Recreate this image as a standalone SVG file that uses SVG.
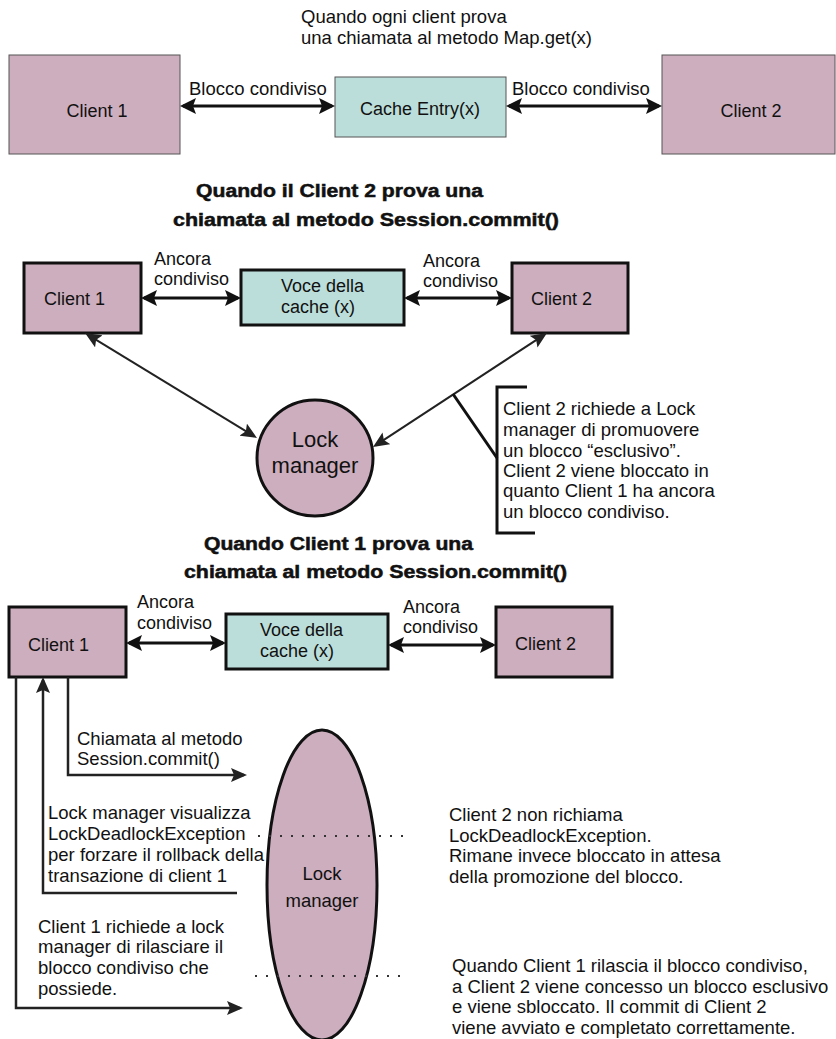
<svg xmlns="http://www.w3.org/2000/svg" width="836" height="1039" viewBox="0 0 836 1039">
  <style>
    text { font-family: "Liberation Sans", Arial, sans-serif; font-size: 18.5px; fill: #111; }
    .lbl { font-size: 18px; }
    .mid { text-anchor: middle; }
    .title { font-weight: bold; font-size: 18px; stroke: #111; stroke-width: 0.5px; }
    .client { fill: #cdaebe; }
    .cache { fill: #bcdeda; }
    .thin { stroke: #555; stroke-width: 1; }
    .thick { stroke: #111; stroke-width: 3; }
    .dbl { stroke: #111; stroke-width: 3; fill: none; }
    .wire { stroke: #222; stroke-width: 2.5; fill: none; }
    .diag { stroke: #222; stroke-width: 2; fill: none; }
    .dots { stroke: #333; stroke-width: 2; stroke-dasharray: 2 9; fill: none; }
  </style>
  <defs>
    <marker id="ah" viewBox="0 0 16 16" refX="13" refY="8" markerWidth="16" markerHeight="16" markerUnits="userSpaceOnUse" orient="auto-start-reverse">
      <path d="M0,0 L16,8 L0,16 L3,8 z" fill="#111"/>
    </marker>
    <marker id="ahs" viewBox="0 0 16 14" refX="13" refY="7" markerWidth="16" markerHeight="14" markerUnits="userSpaceOnUse" orient="auto-start-reverse">
      <path d="M0,0 L16,7 L0,14 L3,7 z" fill="#222"/>
    </marker>
  </defs>

  <!-- Map.get(x): shared locks -->
  <g id="caption-get">
    <text x="301" y="23">Quando ogni client prova</text>
    <text x="301" y="44">una chiamata al metodo Map.get(x)</text>
  </g>
  <g id="get-client1">
    <rect class="client thin" x="9" y="55" width="171" height="99"/>
    <text class="lbl mid" x="97" y="117">Client 1</text>
  </g>
  <g id="get-cache">
    <rect class="cache thin" x="335" y="77" width="171" height="60"/>
    <text class="lbl mid" x="420" y="115">Cache Entry(x)</text>
  </g>
  <g id="get-client2">
    <rect class="client thin" x="662" y="55" width="173" height="99"/>
    <text class="lbl mid" x="751" y="117">Client 2</text>
  </g>
  <g id="get-connectors">
    <line class="dbl" x1="183" y1="106" x2="332" y2="106" marker-start="url(#ah)" marker-end="url(#ah)"/>
    <line class="dbl" x1="509" y1="106" x2="659" y2="106" marker-start="url(#ah)" marker-end="url(#ah)"/>
    <text x="189" y="95">Blocco condiviso</text>
    <text x="512" y="95">Blocco condiviso</text>
  </g>

  <!-- Client 2 commit -->
  <g id="caption-commit2">
    <text class="title" x="196" y="197" textLength="287" lengthAdjust="spacingAndGlyphs">Quando il Client 2 prova una</text>
    <text class="title" x="173" y="226" textLength="386" lengthAdjust="spacingAndGlyphs">chiamata al metodo Session.commit()</text>
  </g>
  <g id="c2-client1">
    <rect class="client thick" x="24" y="263" width="117" height="70"/>
    <text class="lbl" x="44" y="305">Client 1</text>
  </g>
  <g id="c2-cache">
    <rect class="cache thick" x="241" y="270" width="163" height="55"/>
    <text class="lbl" x="281" y="292">Voce della</text>
    <text class="lbl" x="281" y="313">cache (x)</text>
  </g>
  <g id="c2-client2">
    <rect class="client thick" x="512" y="263" width="116" height="70"/>
    <text class="lbl" x="531" y="305">Client 2</text>
  </g>
  <g id="c2-lockmanager">
    <circle class="client thick" cx="315" cy="458" r="58"/>
    <text class="mid" x="315" y="447" style="font-size:22px">Lock</text>
    <text class="mid" x="315" y="473" style="font-size:22px">manager</text>
  </g>
  <g id="c2-connectors">
    <line class="dbl" x1="144" y1="298" x2="238" y2="298" marker-start="url(#ah)" marker-end="url(#ah)"/>
    <line class="dbl" x1="407" y1="298" x2="509" y2="298" marker-start="url(#ah)" marker-end="url(#ah)"/>
    <text class="lbl" x="154" y="265">Ancora</text>
    <text class="lbl" x="154" y="285">condiviso</text>
    <text class="lbl" x="423" y="267">Ancora</text>
    <text class="lbl" x="423" y="287">condiviso</text>
    <line class="diag" x1="87.6" y1="334.6" x2="254.4" y2="436.4" marker-start="url(#ahs)" marker-end="url(#ahs)"/>
    <line class="diag" x1="544.5" y1="334.6" x2="375.5" y2="445.4" marker-start="url(#ahs)" marker-end="url(#ahs)"/>
  </g>
  <g id="c2-note">
    <line x1="453" y1="394" x2="497" y2="458" stroke="#111" stroke-width="3"/>
    <path d="M527,387 H497 V533 H535" fill="none" stroke="#111" stroke-width="3"/>
    <text x="503" y="415">Client 2 richiede a Lock</text>
    <text x="503" y="436">manager di promuovere</text>
    <text x="503" y="457">un blocco “esclusivo”.</text>
    <text x="503" y="477">Client 2 viene bloccato in</text>
    <text x="503" y="497">quanto Client 1 ha ancora</text>
    <text x="503" y="518">un blocco condiviso.</text>
  </g>

  <!-- Client 1 commit -->
  <g id="caption-commit1">
    <text class="title" x="204" y="550" textLength="269" lengthAdjust="spacingAndGlyphs">Quando Client 1 prova una</text>
    <text class="title" x="184" y="578" textLength="383" lengthAdjust="spacingAndGlyphs">chiamata al metodo Session.commit()</text>
  </g>
  <g id="c1-client1">
    <rect class="client thick" x="9" y="607" width="117" height="70"/>
    <text class="lbl" x="28" y="651">Client 1</text>
  </g>
  <g id="c1-cache">
    <rect class="cache thick" x="226" y="614" width="162" height="55"/>
    <text class="lbl" x="260" y="636">Voce della</text>
    <text class="lbl" x="260" y="657">cache (x)</text>
  </g>
  <g id="c1-client2">
    <rect class="client thick" x="496" y="607" width="116" height="70"/>
    <text class="lbl" x="515" y="650">Client 2</text>
  </g>
  <g id="c1-lockmanager">
    <ellipse class="client thick" cx="322" cy="885" rx="55" ry="155"/>
    <text class="mid" x="322" y="880">Lock</text>
    <text class="mid" x="322" y="907">manager</text>
  </g>
  <g id="c1-connectors">
    <line class="dbl" x1="129" y1="643" x2="223" y2="643" marker-start="url(#ah)" marker-end="url(#ah)"/>
    <line class="dbl" x1="391" y1="645" x2="493" y2="645" marker-start="url(#ah)" marker-end="url(#ah)"/>
    <text class="lbl" x="137" y="608">Ancora</text>
    <text class="lbl" x="137" y="629">condiviso</text>
    <text class="lbl" x="403" y="613">Ancora</text>
    <text class="lbl" x="403" y="633">condiviso</text>
    <path class="wire" d="M68,677 V775 H244" marker-end="url(#ahs)"/>
    <path class="wire" d="M237,893 H43 V680" marker-end="url(#ahs)"/>
    <path class="wire" d="M16,677 V1008 H240" marker-end="url(#ahs)"/>
    <line class="dots" x1="258" y1="836" x2="412" y2="836"/>
    <line class="dots" x1="255" y1="976" x2="409" y2="976"/>
  </g>
  <g id="c1-notes">
    <text x="77" y="745">Chiamata al metodo</text>
    <text x="77" y="765">Session.commit()</text>
    <text x="48" y="819">Lock manager visualizza</text>
    <text x="48" y="840">LockDeadlockException</text>
    <text x="48" y="861">per forzare il rollback della</text>
    <text x="48" y="882">transazione di client 1</text>
    <text x="38" y="933">Client 1 richiede a lock</text>
    <text x="38" y="953">manager di rilasciare il</text>
    <text x="38" y="974">blocco condiviso che</text>
    <text x="38" y="995">possiede.</text>
    <text x="449" y="821">Client 2 non richiama</text>
    <text x="449" y="842">LockDeadlockException.</text>
    <text x="449" y="862">Rimane invece bloccato in attesa</text>
    <text x="449" y="883">della promozione del blocco.</text>
    <text x="452" y="972">Quando Client 1 rilascia il blocco condiviso,</text>
    <text x="452" y="993">a Client 2 viene concesso un blocco esclusivo</text>
    <text x="452" y="1013">e viene sbloccato. Il commit di Client 2</text>
    <text x="452" y="1034">viene avviato e completato correttamente.</text>
  </g>
</svg>
